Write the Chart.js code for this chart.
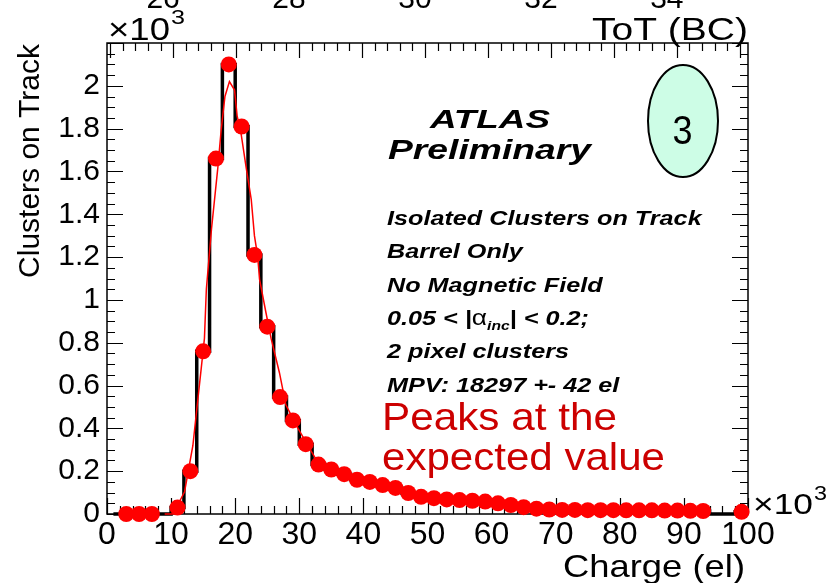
<!DOCTYPE html>
<html>
<head>
<meta charset="utf-8">
<script src="https://cdn.jsdelivr.net/npm/chart.js@4.4.1/dist/chart.umd.min.js"></script>
<style>
  html, body { margin: 0; padding: 0; background: #fff; }
  canvas { display: block; }
</style>
</head>
<body>
<canvas id="chargeChart" width="829" height="583"></canvas>
<script>
// Cluster charge, bins of 2000 el (bin centres)
const chargeBins = [
    1000, 3000, 5000, 7000, 9000, 11000, 13000, 15000, 17000, 19000,
    21000, 23000, 25000, 27000, 29000, 31000, 33000, 35000, 37000, 39000,
    41000, 43000, 45000, 47000, 49000, 51000, 53000, 55000, 57000, 59000,
    61000, 63000, 65000, 67000, 69000, 71000, 73000, 75000, 77000, 79000,
    81000, 83000, 85000, 87000, 89000, 91000, 93000, 95000, 97000, 99000
];
// Clusters per bin (null = empty bin, no marker)
const clusterCounts = [
    null, 0, 0, 0, null, 30, 200, 760, 1660, 2100,
    1810, 1210, 875, 546, 437, 326, 231, 208, 186, 160,
    150, 135, 122, 98, 80, 74, 68, 65, 62, 58,
    50, 42, 32, 25, 21, 19, 19, 18, 18, 18,
    17, 17, 17, 16, 16, 15, 14, null, null, 10
];

// Fitted curve
const fitCharge = [
    9000, 10300, 12100, 13400, 13900, 14700, 15200, 15500, 16300, 17300,
    17800, 18400, 19100, 19900, 20300, 20900, 21700, 22500, 23000, 23500,
    23800, 24800, 25600, 26900, 27900, 29800, 31600, 33000, 35000, 37000,
    40000, 45000, 50000, 55000, 60000, 65000, 70000, 80000, 93000
];
const fitCounts = [
    0, 0, 104, 320, 460, 680, 820, 1050, 1330, 1620,
    1790, 1950, 2020, 1980, 1860, 1780, 1620, 1470, 1300, 1205,
    1096, 940, 820, 660, 510, 400, 306, 235, 208, 186,
    158, 120, 78, 65, 55, 35, 20, 17, 15
];

// Top axis: time over threshold
const totRange = [24.95, 35.13];
const totLabels = [26, 28, 30, 32, 34];

const infoLines = [
    'Isolated Clusters on Track',
    'Barrel Only',
    'No Magnetic Field',
    null, // alpha line, drawn separately
    '2 pixel clusters',
    'MPV: 18297 +- 42 el'
];

const FONT = '"Liberation Sans", Arial, Helvetica, sans-serif';

function stretchText(ctx, text, x, y, font, width, align) {
    ctx.save();
    ctx.font = font;
    const sx = width ? width / ctx.measureText(text).width : 1;
    ctx.translate(x, y);
    ctx.scale(sx, 1);
    ctx.textAlign = align || 'left';
    ctx.textBaseline = 'alphabetic';
    ctx.fillText(text, 0, 0);
    ctx.restore();
}

// ROOT style frame with inward ticks on all four sides
const frameTicks = {
    id: 'frameTicks',
    beforeDatasetsDraw(chart) {
        const ctx = chart.ctx;
        const a = chart.chartArea;
        const xs = chart.scales.x, ys = chart.scales.y, ts = chart.scales.tot;
        ctx.save();
        ctx.strokeStyle = '#000';
        ctx.lineWidth = 1.5;
        ctx.strokeRect(a.left, a.top, a.right - a.left, a.bottom - a.top);
        ctx.lineWidth = 1.2;
        ctx.beginPath();
        for (let v = 0; v <= 100000; v += 2000) {
            const px = Math.round(xs.getPixelForValue(v)) + 0.5;
            const len = v % 10000 === 0 ? 16 : 8;
            ctx.moveTo(px, a.bottom);
            ctx.lineTo(px, a.bottom - len);
        }
        for (let v = 0; v <= 2200; v += 50) {
            const py = Math.round(ys.getPixelForValue(v)) + 0.5;
            const len = v % 200 === 0 ? 16 : 8;
            ctx.moveTo(a.left, py);
            ctx.lineTo(a.left + len, py);
            ctx.moveTo(a.right, py);
            ctx.lineTo(a.right - len, py);
        }
        for (let k = 125; k <= 175; k++) {
            const px = Math.round(ts.getPixelForValue(k / 5)) + 0.5;
            const len = k % 5 === 0 ? 15 : 8;
            ctx.moveTo(px, a.top);
            ctx.lineTo(px, a.top + len);
        }
        ctx.stroke();
        ctx.restore();
    },
    afterDraw(chart) {
        const ctx = chart.ctx;
        const a = chart.chartArea;
        const ts = chart.scales.tot;
        ctx.save();
        ctx.fillStyle = '#000';

        // top axis labels, cut by the canvas edge
        ctx.font = '30px ' + FONT;
        ctx.textAlign = 'center';
        totLabels.forEach(t => ctx.fillText(String(t), ts.getPixelForValue(t) - 10, 8));
        ctx.textAlign = 'left';

        stretchText(ctx, '\u00d710', 108, 40, '32px ' + FONT, 62);
        stretchText(ctx, '3', 171, 24, '21px ' + FONT, 14);
        stretchText(ctx, 'ToT (BC)', a.right, 40, '31px ' + FONT, 156, 'right');

        stretchText(ctx, '\u00d710', a.right + 5, 514, '30px ' + FONT, 60);
        stretchText(ctx, '3', a.right + 66, 500, '20px ' + FONT, 13);
        stretchText(ctx, 'Charge (el)', 745, 577, '32px ' + FONT, 182, 'right');

        // y title
        ctx.save();
        ctx.translate(31, 44);
        ctx.rotate(-Math.PI / 2);
        ctx.font = '30px ' + FONT;
        ctx.textAlign = 'right';
        ctx.textBaseline = 'middle';
        ctx.fillText('Clusters on Track', 0, 0);
        ctx.restore();

        // label block
        stretchText(ctx, 'ATLAS', 430, 128, 'italic bold 26px ' + FONT, 120);
        stretchText(ctx, 'Preliminary', 388, 159, 'italic bold 28px ' + FONT, 203);
        const bi = 'italic bold 21px ' + FONT;
        infoLines.forEach((line, i) => {
            if (line) {
                ctx.save();
                ctx.font = bi;
                const w = ctx.measureText(line).width * 1.2;
                ctx.restore();
                stretchText(ctx, line, 387, 225 + i * 33.3, bi, w);
            }
        });
        // 0.05 < |alpha_inc| < 0.2;
        ctx.save();
        ctx.translate(387, 325);
        ctx.scale(1.2, 1);
        ctx.textAlign = 'left';
        ctx.textBaseline = 'alphabetic';
        ctx.font = bi;
        let x = 0;
        ctx.fillText('0.05 < |', x, 0);
        x += ctx.measureText('0.05 < |').width;
        ctx.font = '22px ' + FONT;
        ctx.fillText('\u03b1', x, 0);
        x += ctx.measureText('\u03b1').width;
        ctx.font = 'italic bold 13px ' + FONT;
        ctx.fillText('inc', x, 5);
        x += ctx.measureText('inc').width;
        ctx.font = bi;
        ctx.fillText('| < 0.2;', x, 0);
        ctx.restore();

        // numbered ellipse
        ctx.beginPath();
        ctx.ellipse(683, 121, 35, 56, 0, 0, Math.PI * 2);
        ctx.fillStyle = '#cdfde6';
        ctx.fill();
        ctx.lineWidth = 2;
        ctx.strokeStyle = '#000';
        ctx.stroke();
        ctx.fillStyle = '#000';
        stretchText(ctx, '3', 682.5, 144, '40px ' + FONT, 20, 'center');

        // red note
        ctx.fillStyle = '#cc0000';
        stretchText(ctx, 'Peaks at the', 382, 430, '39px ' + FONT, 235);
        stretchText(ctx, 'expected value', 382, 470, '39px ' + FONT, 283);
        ctx.restore();
    }
};

const ctx = document.getElementById('chargeChart').getContext('2d');
new Chart(ctx, {
    type: 'line',
    data: {
        datasets: [
            {
                // measured clusters
                data: chargeBins.map((c, i) => ({ x: c, y: clusterCounts[i] })),
                showLine: false,
                pointRadius: 8,
                pointBackgroundColor: '#ff0000',
                pointBorderWidth: 0,
                clip: false
            },
            {
                // fit
                data: fitCharge.map((c, i) => ({ x: c, y: fitCounts[i] })),
                borderColor: '#ff0000',
                borderWidth: 1.5,
                pointRadius: 0,
                tension: 0,
                clip: false
            },
            {
                // histogram outline
                data: chargeBins.map((c, i) => ({ x: c, y: clusterCounts[i] ?? 0 })),
                stepped: 'middle',
                borderColor: '#000',
                borderWidth: 3.5,
                pointRadius: 0,
                clip: false
            }
        ]
    },
    options: {
        responsive: false,
        animation: false,
        devicePixelRatio: 1,
        layout: { padding: { left: 0, right: 81, top: 0, bottom: 0 } },
        plugins: {
            legend: { display: false },
            tooltip: { enabled: false }
        },
        scales: {
            x: {
                type: 'linear',
                position: 'bottom',
                min: 0,
                max: 100000,
                afterFit(s) { s.height = 69; },
                grid: { display: false, drawTicks: false },
                border: { display: false },
                ticks: {
                    stepSize: 10000,
                    maxTicksLimit: 20,
                    autoSkip: false,
                    maxRotation: 0,
                    padding: 2,
                    color: '#000',
                    font: { family: FONT, size: 32 },
                    callback: v => String(v / 1000)
                }
            },
            y: {
                type: 'linear',
                min: 0,
                max: 2200,
                afterFit(s) { s.width = 107; },
                grid: { display: false, drawTicks: false },
                border: { display: false },
                ticks: {
                    stepSize: 200,
                    maxTicksLimit: 20,
                    autoSkip: false,
                    padding: 7,
                    color: '#000',
                    font: { family: FONT, size: 30 },
                    callback: v => v >= 2200 ? '' : String(Number((v / 1000).toFixed(1)))
                }
            },
            tot: {
                type: 'linear',
                position: 'top',
                min: totRange[0],
                max: totRange[1],
                afterFit(s) { s.height = 43; },
                grid: { display: false, drawTicks: false },
                border: { display: false },
                ticks: { display: false }
            }
        }
    },
    plugins: [frameTicks]
});
</script>
</body>
</html>
